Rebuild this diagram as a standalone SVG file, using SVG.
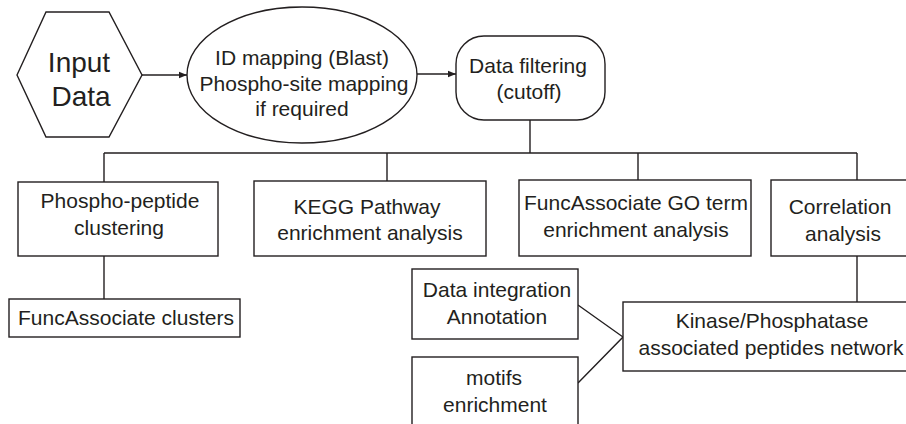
<svg xmlns="http://www.w3.org/2000/svg" width="906" height="424" viewBox="0 0 906 424">
<style>
.s{fill:#fff;stroke:#231f20;stroke-width:1.4}
.t{font-family:"Liberation Sans",Arial,sans-serif;font-size:21px;fill:#231f20;text-anchor:middle}
.big{font-size:28px}
.c{fill:none;stroke:#231f20;stroke-width:1.4}
</style>
<defs>
<marker id="ah" viewBox="0 0 10 10" refX="10" refY="5" markerWidth="8" markerHeight="8" markerUnits="userSpaceOnUse" orient="auto">
<path d="M0,1 L10,5 L0,9 Z" fill="#231f20"/>
</marker>
</defs>
<rect width="906" height="424" fill="#fff"/>
<g id="connectors">
<line class="c" x1="142" y1="75" x2="187" y2="75" marker-end="url(#ah)"/>
<line class="c" x1="417" y1="74" x2="456" y2="74" marker-end="url(#ah)"/>
<path class="c" d="M530,120 V153 M104,153 H857 M104,153 V182 M387,153 V181 M638,153 V180 M857,153 V180"/>
<path class="c" d="M104,256 V299"/>
<path class="c" d="M857,256 V302"/>
<path class="c" d="M578,305 L623,337 L578,383"/>
</g>
<g id="input">
<polygon class="s" points="17,75 46,12 109,12 142,75 109,137 46,137"/>
<text class="t big" x="79" y="72">Input</text>
<text class="t big" x="81" y="106">Data</text>
</g>
<g id="idmapping">
<ellipse class="s" cx="302" cy="75" rx="115" ry="68"/>
<text class="t" x="302" y="65">ID mapping (Blast)</text>
<text class="t" x="304" y="91">Phospho-site mapping</text>
<text class="t" x="302" y="116">if required</text>
</g>
<g id="filtering">
<rect class="s" x="456" y="36" width="149" height="84" rx="28"/>
<text class="t" x="528" y="73">Data filtering</text>
<text class="t" x="529" y="99">(cutoff)</text>
</g>
<g id="clustering">
<rect class="s" x="18" y="182" width="200" height="74"/>
<text class="t" x="120" y="208">Phospho-peptide</text>
<text class="t" x="119" y="235">clustering</text>
</g>
<g id="kegg">
<rect class="s" x="254" y="181" width="232" height="75"/>
<text class="t" x="367" y="214">KEGG Pathway</text>
<text class="t" x="370" y="240">enrichment analysis</text>
</g>
<g id="goterm">
<rect class="s" x="519" y="180" width="232" height="76"/>
<text class="t" x="636" y="210">FuncAssociate GO term</text>
<text class="t" x="636" y="237">enrichment analysis</text>
</g>
<g id="correlation">
<rect class="s" x="771" y="180" width="150" height="76"/>
<text class="t" x="840" y="214">Correlation</text>
<text class="t" x="843" y="241">analysis</text>
</g>
<g id="funcclusters">
<rect class="s" x="9" y="299" width="231" height="38"/>
<text class="t" x="126" y="325">FuncAssociate clusters</text>
</g>
<g id="integration">
<rect class="s" x="412" y="269" width="166" height="70"/>
<text class="t" x="497" y="297">Data integration</text>
<text class="t" x="497" y="324">Annotation</text>
</g>
<g id="motifs">
<rect class="s" x="412" y="357" width="166" height="80"/>
<text class="t" x="494" y="385">motifs</text>
<text class="t" x="495" y="412">enrichment</text>
</g>
<g id="kinase">
<rect class="s" x="623" y="302" width="300" height="69"/>
<text class="t" x="772" y="328">Kinase/Phosphatase</text>
<text class="t" x="771" y="355">associated peptides network</text>
</g>
</svg>
